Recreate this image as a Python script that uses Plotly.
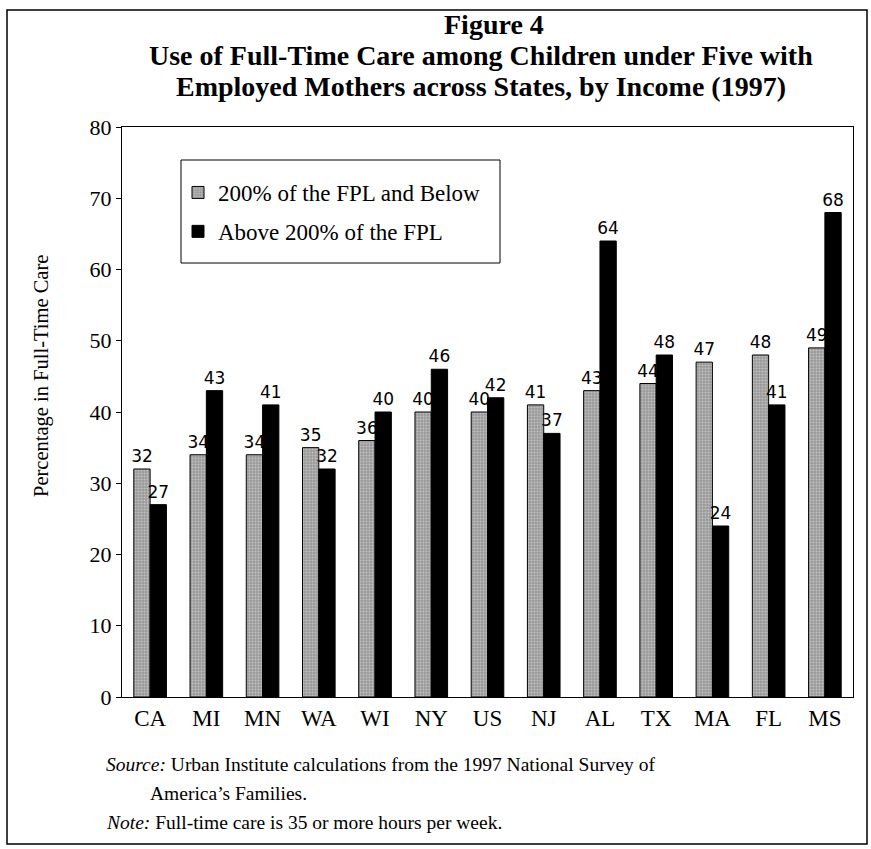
import plotly.graph_objects as go

states = ["CA", "MI", "MN", "WA", "WI", "NY", "US", "NJ", "AL", "TX", "MA", "FL", "MS"]
low_income = [32, 34, 34, 35, 36, 40, 40, 41, 43, 44, 47, 48, 49]
high_income = [27, 43, 41, 32, 40, 46, 42, 37, 64, 48, 24, 41, 68]
series_names = ["200% of the FPL and Below", "Above 200% of the FPL"]
y_ticks = [0, 10, 20, 30, 40, 50, 60, 70, 80]

SERIF = "Liberation Serif, Times New Roman, serif"
LABEL_FONT = "DejaVu Sans, sans-serif"

W, H = 871, 849
L, R, T, B = 122, 18, 127, 152
pw, ph = W - L - R, H - T - B


def px_x(x):
    return (x - L) / pw


def px_y(y):
    return (H - B - y) / ph


fig = go.Figure()
fig.add_trace(go.Bar(
    x=states, y=low_income, name=series_names[0], legendgroup="low",
    marker=dict(color="#9a9a9a", line=dict(color="black", width=1),
                pattern=dict(shape=".", fgcolor="#e6e6e6", size=3, solidity=0.35)),
    text=[str(v) for v in low_income], textposition="outside", constraintext="none",
    textfont=dict(family=LABEL_FONT, size=17, color="black"), cliponaxis=False,
))
fig.add_trace(go.Bar(
    x=states, y=high_income, name=series_names[1], legendgroup="high",
    marker=dict(color="black", line=dict(color="black", width=1)),
    text=[str(v) for v in high_income], textposition="outside", constraintext="none",
    textfont=dict(family=LABEL_FONT, size=17, color="black"), cliponaxis=False,
))

fig.update_layout(
    width=W, height=H,
    margin=dict(l=L, r=R, t=T, b=B),
    paper_bgcolor="white", plot_bgcolor="white",
    barmode="group", bargap=0.42, bargroupgap=0.0,
    font=dict(family=SERIF, color="black"),
    showlegend=True,
    legend=dict(
        x=px_x(178), y=px_y(171), xanchor="left", yanchor="top",
        bgcolor="rgba(0,0,0,0)", borderwidth=0,
        font=dict(family=SERIF, size=23, color="black"),
        itemwidth=30, traceorder="grouped", tracegroupgap=6,
    ),
    xaxis=dict(
        showline=True, linecolor="black", linewidth=1, mirror=True,
        ticks="", tickfont=dict(family=SERIF, size=23, color="black"),
        showgrid=False,
    ),
    yaxis=dict(
        range=[0, 80], tickvals=y_ticks, showline=True, linecolor="black",
        linewidth=1, mirror=True, ticks="outside", ticklen=5, tickcolor="black",
        tickfont=dict(family=SERIF, size=22, color="black"), showgrid=False,
    ),
)

# Legend frame
fig.add_shape(type="rect", xref="paper", yref="paper",
              x0=px_x(181), x1=px_x(500), y0=px_y(263), y1=px_y(160),
              line=dict(color="black", width=1), fillcolor="white", layer="above")

# Axis title, set slightly above the plot's middle
fig.add_annotation(text="Percentage in Full-Time Care", xref="paper", yref="paper",
                   x=px_x(41), y=px_y(376), xanchor="center", yanchor="middle",
                   textangle=-90, showarrow=False,
                   font=dict(family=SERIF, size=20.5, color="black"))

# Figure titles
titles = [
    ("<b>Figure 4</b>", 24, 494),
    ("<b>Use of Full-Time Care among Children under Five with</b>", 55, 481),
    ("<b>Employed Mothers across States, by Income (1997)</b>", 86, 481),
]
for text, ypix, xpix in titles:
    fig.add_annotation(text=text, xref="paper", yref="paper",
                       x=px_x(xpix), y=px_y(ypix), xanchor="center", yanchor="middle",
                       showarrow=False, font=dict(family=SERIF, size=28, color="black"))

# Source and note lines
notes = [
    ("<i>Source:</i> Urban Institute calculations from the 1997 National Survey of", 104, 764),
    ("America\u2019s Families.", 148, 793),
    ("<i>Note:</i> Full-time care is 35 or more hours per week.", 104, 822),
]
for text, xpix, ypix in notes:
    fig.add_annotation(text=text, xref="paper", yref="paper",
                       x=px_x(xpix), y=px_y(ypix), xanchor="left", yanchor="middle",
                       showarrow=False, font=dict(family=SERIF, size=19.5, color="black"))

# Outer frame around the whole figure
fig.add_shape(type="rect", xref="paper", yref="paper",
              x0=px_x(7), x1=px_x(867), y0=px_y(844), y1=px_y(10),
              line=dict(color="black", width=1.5), fillcolor="rgba(0,0,0,0)", layer="below")

fig.write_html("out.html")
